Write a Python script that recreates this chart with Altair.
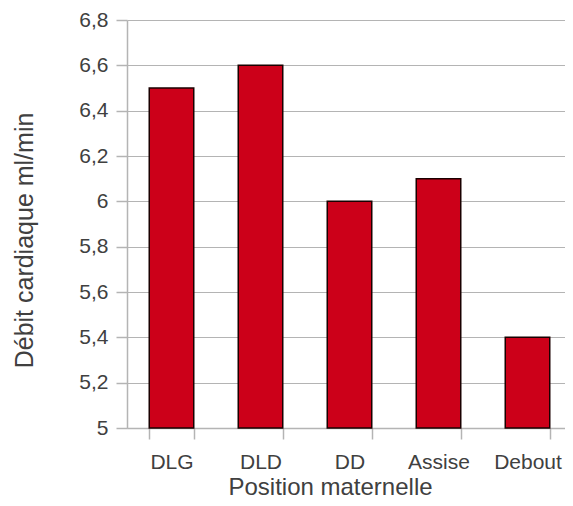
import altair as alt
import pandas as pd

categories = ["DLG", "DLD", "DD", "Assise", "Debout"]
values = [6.5, 6.6, 6.0, 6.1, 5.4]
y_ticks = [5.0, 5.2, 5.4, 5.6, 5.8, 6.0, 6.2, 6.4, 6.6, 6.8]
y_min, y_max = 5.0, 6.8

df = pd.DataFrame({"position": categories, "debit": values, "base": [y_min] * len(values)})

font = "Liberation Sans"
grey = "#b4b4b4"
txt = "#404040"

chart = alt.Chart(df).mark_bar(
    color="#cc0019", stroke="#1a0000", strokeWidth=1.5
).encode(
    x=alt.X("position:N", sort=categories,
            scale=alt.Scale(paddingInner=0.5, paddingOuter=0.25, range=[0, 445]),
            axis=alt.Axis(title="Position maternelle", labelAngle=0, tickBand="extent",
                          tickSize=11, labelPadding=29, labelBaseline="alphabetic",
                          domainColor=grey, tickColor=grey,
                          domainWidth=1.5, tickWidth=1.5,
                          labelFont=font, labelFontSize=21, labelColor=txt,
                          titleFont=font, titleFontSize=24, titleColor=txt,
                          titleFontWeight="normal", titleX=203, titleY=66,
                          titleBaseline="alphabetic", grid=False)),
    y=alt.Y("debit:Q", scale=alt.Scale(domain=[y_min, y_max], nice=False, zero=False),
            axis=alt.Axis(title="Débit cardiaque ml/min", values=y_ticks,
                          labelExpr="replace(format(datum.value, '~g'), '.', ',')",
                          tickSize=11, labelPadding=8, domainColor=grey, tickColor=grey,
                          domainWidth=1.5, tickWidth=1.5, gridColor=grey, gridWidth=1.2,
                          labelFont=font, labelFontSize=21, labelColor=txt,
                          titleFont=font, titleFontSize=25, titleColor=txt,
                          titleFontWeight="normal", titleX=-103, titleY=220,
                          titleBaseline="middle", titleAlign="center")),
    y2="base:Q",
).properties(
    width=438, height=408,
    autosize=alt.AutoSizeParams(type="none"),
    padding={"left": 119, "top": 12, "right": 0, "bottom": 70},
).configure_view(stroke=None)

chart.save("out.html", embed_options={"renderer": "svg", "actions": False})
